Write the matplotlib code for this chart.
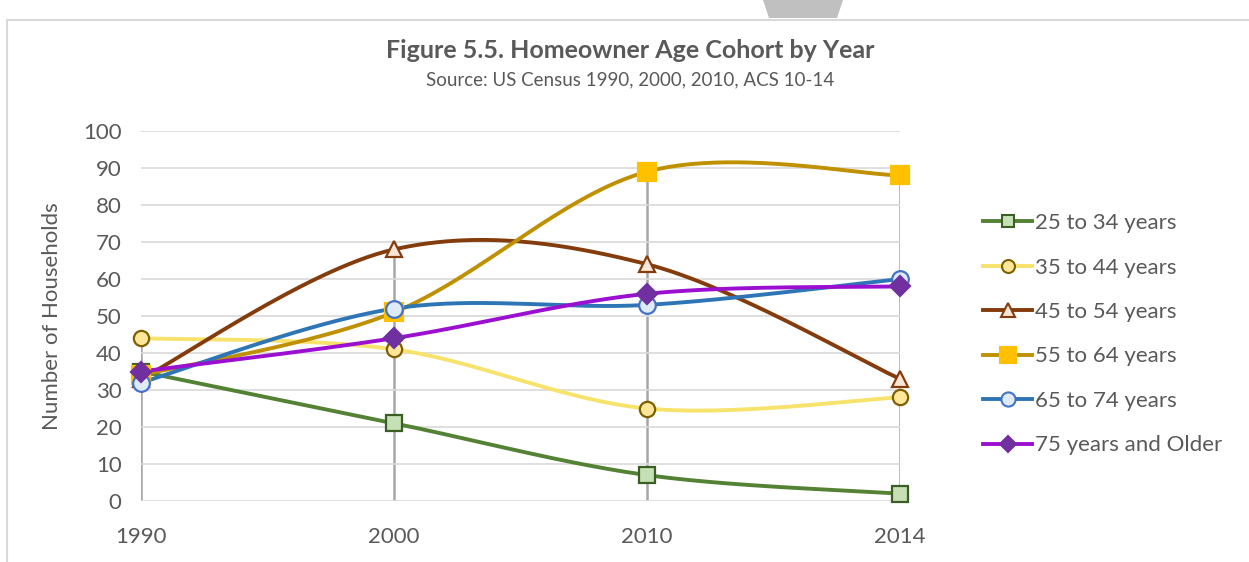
import numpy as np
import matplotlib
matplotlib.use("Agg")
import matplotlib.pyplot as plt
from matplotlib.lines import Line2D
from matplotlib.patches import Polygon

years = ["1990", "2000", "2010", "2014"]
series_names = ["25 to 34 years", "35 to 44 years", "45 to 54 years",
                "55 to 64 years", "65 to 74 years", "75 years and Older"]
v_25_34 = [35, 21, 7, 2]
v_35_44 = [44, 41, 25, 28]
v_45_54 = [33, 68, 64, 33]
v_55_64 = [34, 51, 89, 88]
v_65_74 = [32, 52, 53, 60]
v_75_up = [35, 44, 56, 58]
values = [v_25_34, v_35_44, v_45_54, v_55_64, v_65_74, v_75_up]

styles = [
    dict(line="#548235", marker="s", face="#c5e0b4", edge="#3b5e24", ms=11),
    dict(line="#f7e26b", marker="o", face="#ffe699", edge="#7f6000", ms=11),
    dict(line="#843c0c", marker="^", face="#fbe5d6", edge="#843c0c", ms=12),
    dict(line="#bf9000", marker="s", face="#ffc000", edge="#ffc000", ms=13),
    dict(line="#2e75b6", marker="o", face="#deebf7", edge="#4472c4", ms=12),
    dict(line="#9b10d0", marker="D", face="#7030a0", edge="#7030a0", ms=10),
]

plt.rcParams['font.family'] = ['Lato', 'DejaVu Sans']
TXT = "#595959"

fig = plt.figure(figsize=(12.49, 5.62), dpi=100)
W, H = 1249, 562
ax = fig.add_axes([141 / W, 1 - 501 / H, (900 - 141) / W, (501 - 131) / H])


def smooth(xs, ys, n=60):
    P = np.column_stack([xs, ys]).astype(float)
    Pe = np.vstack([P[0], P, P[-1]])
    out = []
    for i in range(len(P) - 1):
        p0, p1, p2, p3 = Pe[i], Pe[i + 1], Pe[i + 2], Pe[i + 3]
        c1 = p1 + (p2 - p0) / 6.0
        c2 = p2 - (p3 - p1) / 6.0
        t = np.linspace(0, 1, n)[:, None]
        b = ((1 - t) ** 3) * p1 + 3 * ((1 - t) ** 2) * t * c1 + 3 * (1 - t) * t ** 2 * c2 + t ** 3 * p2
        out.append(b if i == 0 else b[1:])
    B = np.vstack(out)
    return B[:, 0], B[:, 1]


x = np.arange(len(years))
ax.set_xlim(0, len(years) - 1)
ax.set_ylim(0, 100)
ax.set_yticks(np.arange(0, 101, 10))
ax.set_xticks(x)
ax.set_xticklabels(years)
ax.grid(axis="y", color="#d9d9d9", lw=1.2, zorder=0)
for s in ax.spines.values():
    s.set_visible(False)
ax.tick_params(length=0, labelsize=16, colors=TXT)
ax.tick_params(axis="y", pad=14)
ax.tick_params(axis="x", pad=19)

# drop lines
tops = np.max(np.array(values), axis=0)
for xi, t in zip(x, tops):
    ax.plot([xi, xi], [0, t], color="#a6a6a6", lw=1.8, zorder=1)

handles = []
for name, vals, st in zip(series_names, values, styles):
    sx, sy = smooth(x, vals)
    ax.plot(sx, sy, color=st["line"], lw=2.8, zorder=2, clip_on=False, solid_capstyle="round")
    ax.plot(x, vals, ls="none", marker=st["marker"], ms=st["ms"], mfc=st["face"],
            mec=st["edge"], mew=1.6, zorder=3, clip_on=False)
    handles.append(Line2D([0], [0], color=st["line"], lw=2.8, marker=st["marker"],
                          ms=st["ms"] * 0.85, mfc=st["face"], mec=st["edge"], mew=1.5))

ax.set_ylabel("Number of Households", fontsize=16, color=TXT)
ax.yaxis.set_label_coords((62 - 141) / (900 - 141), 0.5)

leg = fig.legend(handles, series_names, loc="upper left",
                 bbox_to_anchor=(972 / W, 1 - 202 / H), frameon=False,
                 fontsize=16, handlelength=2.2, handletextpad=0.15,
                 labelspacing=1.1, borderpad=0)
for t in leg.get_texts():
    t.set_color(TXT)

fig.text(630 / W, 1 - 50 / H, "Figure 5.5. Homeowner Age Cohort by Year",
         ha="center", va="center", fontsize=18, fontweight="bold", color=TXT)
fig.text(630 / W, 1 - 80 / H, "Source: US Census 1990, 2000, 2010, ACS 10-14",
         ha="center", va="center", fontsize=13.5, color=TXT)

# frame decorations
fig.add_artist(Line2D([7 / W, 1], [1 - 20 / H, 1 - 20 / H], color="#d9d9d9", lw=1.5))
fig.add_artist(Line2D([7 / W, 7 / W], [0, 1 - 20 / H], color="#d9d9d9", lw=1.5))
fig.add_artist(Polygon([[763 / W, 1], [843 / W, 1], [837 / W, 1 - 18 / H], [769 / W, 1 - 18 / H]],
                       closed=True, transform=fig.transFigure, color="#c0c0c0", lw=0))

fig.savefig("out.png", dpi=100)
